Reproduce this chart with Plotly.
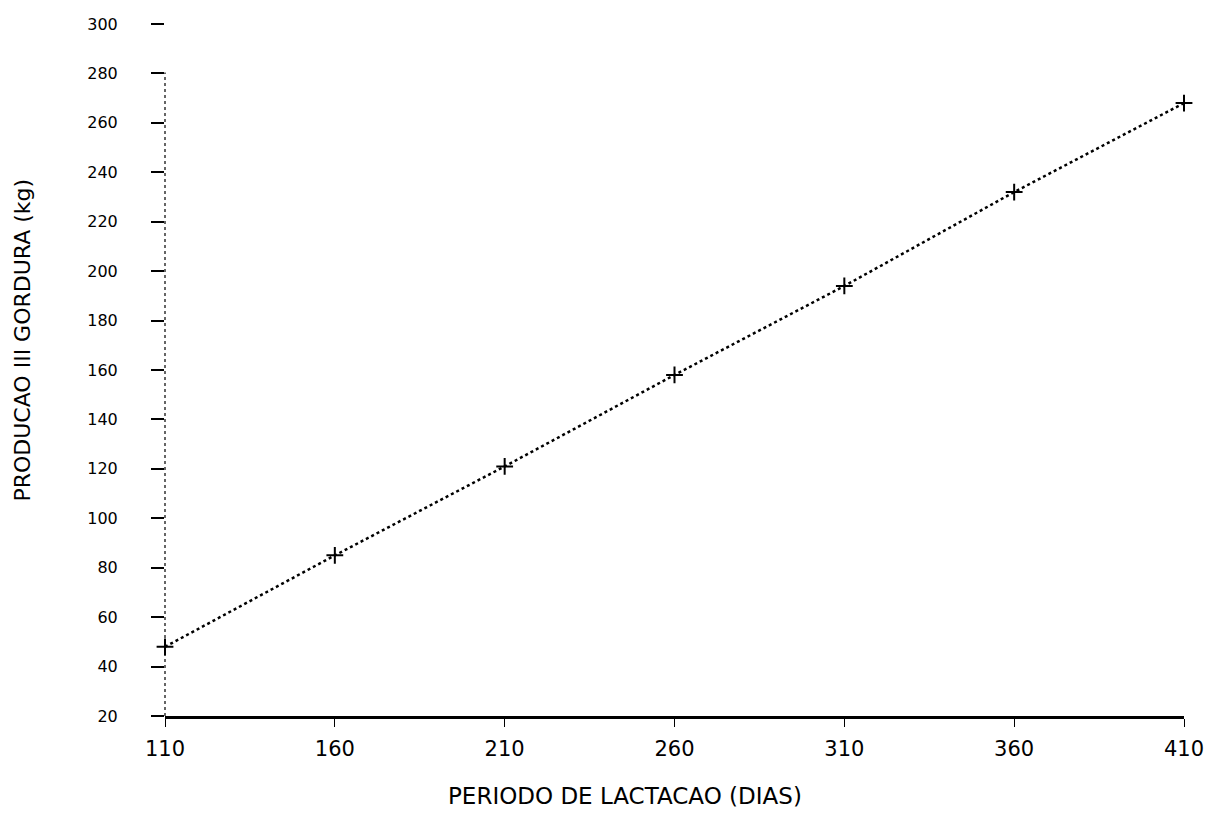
import plotly.graph_objects as go

# Data
dias = [110, 160, 210, 260, 310, 360, 410]
gordura = [48, 85, 121, 158, 194, 232, 268]

x_ticks = [110, 160, 210, 260, 310, 360, 410]
y_ticks = list(range(20, 301, 20))

x_title = "PERIODO DE LACTACAO (DIAS)"
y_title = "PRODUCAO III GORDURA (kg)"

W, H = 1216, 818
ml, mr, mt, mb = 165, 32, 24, 102

fig = go.Figure()
fig.add_trace(go.Scatter(
    x=dias, y=gordura, mode="lines+markers",
    line=dict(color="black", width=2.5, dash="dot"),
    marker=dict(symbol="cross-thin", size=12, line=dict(color="black", width=2)),
    showlegend=False, cliponaxis=False,
))

fig.update_layout(
    width=W, height=H,
    margin=dict(l=ml, r=mr, t=mt, b=mb, pad=0),
    paper_bgcolor="white", plot_bgcolor="white",
    font=dict(family="DejaVu Sans", color="black"),
    xaxis=dict(
        range=[110, 410], tickvals=x_ticks, ticks="outside", ticklen=8,
        tickwidth=1, tickcolor="black", showgrid=False, zeroline=False,
        showline=True, linecolor="black", linewidth=2.5,
        tickfont=dict(size=21, family="DejaVu Sans"),
        ticklabelstandoff=4,
    ),
    yaxis=dict(
        range=[20, 300], tickvals=y_ticks, ticks="outside", ticklen=13,
        tickwidth=2, tickcolor="black", showgrid=False, zeroline=False,
        showline=False, tickfont=dict(size=16, family="DejaVu Sans"),
        ticklabelstandoff=30,
    ),
    shapes=[dict(type="line", xref="paper", yref="paper", x0=0, x1=0, y0=0, y1=0.93,
                 line=dict(color="black", width=1.2, dash="dot"))],
    annotations=[
        dict(text=x_title, xref="paper", yref="paper", x=0.451, y=-0.115,
             xanchor="center", yanchor="middle", showarrow=False,
             font=dict(size=23, family="DejaVu Sans", color="black")),
        dict(text=y_title, xref="paper", yref="paper", x=-0.140, y=0.543,
             xanchor="center", yanchor="middle", showarrow=False, textangle=-90,
             font=dict(size=22, family="DejaVu Sans", color="black")),
    ],
)

fig.write_html("out.html")
